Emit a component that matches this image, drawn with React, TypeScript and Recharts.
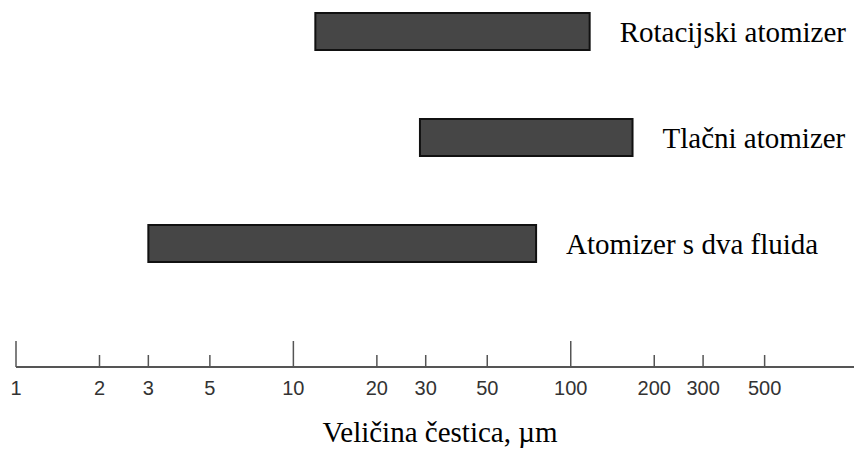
import { BarChart, Bar, XAxis, YAxis, LabelList } from "recharts";

const categories = ["Rotacijski atomizer", "Tlačni atomizer", "Atomizer s dva fluida"];
const lowValues = [12, 28.6, 3];
const highValues = [117, 167, 75];
const tickValues = [1, 2, 3, 5, 10, 20, 30, 50, 100, 200, 300, 500];
const majorTicks = [1, 10, 100];
const axisTitle = "Veličina čestica, µm";

const data = categories.map((name, i) => ({ name, range: [lowValues[i], highValues[i]] }));

const serif = "'Liberation Serif', 'Times New Roman', serif";
const sans = "'Liberation Sans', Arial, sans-serif";

function AxisTick({ x, y, payload }: any) {
  const major = majorTicks.includes(payload.value);
  return (
    <g>
      <line x1={x} x2={x} y1={y} y2={y - (major ? 26 : 12)} stroke="#555" strokeWidth={1.5} />
      <text x={x} y={y + 28} textAnchor="middle" fontFamily={sans} fontSize={20} fill="#333">
        {payload.value}
      </text>
    </g>
  );
}

function AxisTitle({ viewBox }: any) {
  return (
    <text
      x={viewBox.x + viewBox.width / 2 + 5}
      y={viewBox.y + 75}
      textAnchor="middle"
      fontFamily={serif}
      fontSize={29}
      fill="#000"
    >
      {axisTitle}
    </text>
  );
}

export default function App() {
  return (
    <div style={{ position: "absolute", left: 0, top: -22 }}>
      <BarChart
        width={854}
        height={476}
        data={data}
        layout="vertical"
        margin={{ top: 0, right: 0, left: 16, bottom: 0 }}
      >
        <XAxis
          type="number"
          scale="log"
          domain={[1, 1050]}
          ticks={tickValues}
          interval={0}
          tickSize={0}
          tickMargin={0}
          tickLine={false}
          height={87}
          axisLine={{ stroke: "#555", strokeWidth: 2 }}
          tick={(props: any) => <AxisTick {...props} />}
          label={(props: any) => <AxisTitle {...props} />}
        />
        <YAxis type="category" dataKey="name" hide padding={{ top: 0, bottom: 71 }} />
        <Bar
          dataKey="range"
          barSize={37}
          fill="#464646"
          stroke="#111"
          strokeWidth={2}
          isAnimationActive={false}
        >
          <LabelList
            dataKey="name"
            position="right"
            offset={30}
            fill="#000"
            fontSize={29}
            fontFamily={serif}
          />
        </Bar>
      </BarChart>
    </div>
  );
}
